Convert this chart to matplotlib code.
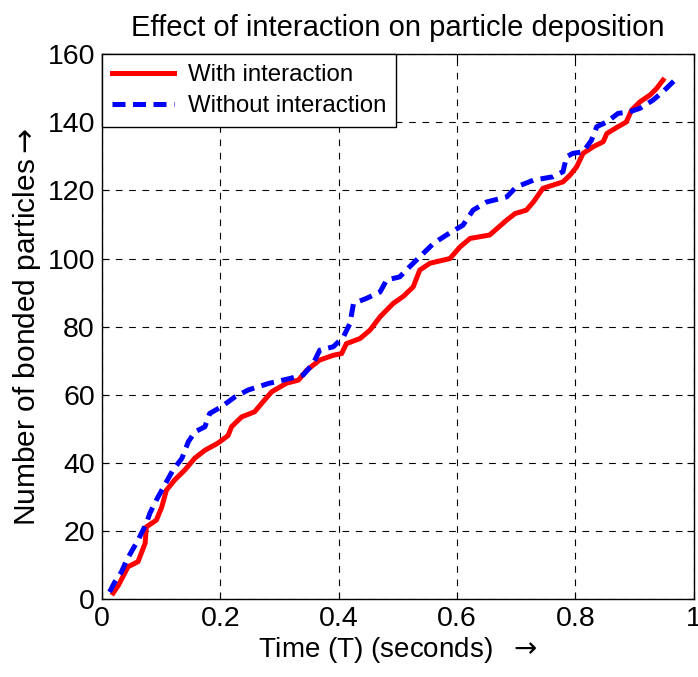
import matplotlib
matplotlib.use("Agg")
import matplotlib.pyplot as plt

plt.rcParams['font.family'] = ['Liberation Sans', 'DejaVu Sans']
plt.rcParams['mathtext.fontset'] = 'dejavusans'

# With interaction (red)
t_with = [0.019, 0.028, 0.044, 0.061, 0.073, 0.075, 0.092, 0.101, 0.109, 0.123,
          0.140, 0.157, 0.174, 0.196, 0.213, 0.219, 0.236, 0.258, 0.270, 0.287,
          0.312, 0.332, 0.346, 0.368, 0.391, 0.405, 0.413, 0.436, 0.453, 0.470,
          0.492, 0.510, 0.526, 0.537, 0.554, 0.588, 0.605, 0.622, 0.655, 0.684,
          0.698, 0.717, 0.729, 0.745, 0.779, 0.791, 0.802, 0.813, 0.830, 0.847,
          0.853, 0.872, 0.886, 0.895, 0.909, 0.926, 0.937, 0.948]
n_with = [1.8, 4.1, 9.5, 11.0, 16.4, 21.2, 23.2, 27.0, 32.0, 35.0,
          37.9, 41.4, 43.7, 45.8, 48.0, 50.6, 53.5, 55.0, 57.5, 60.9,
          63.4, 64.3, 67.2, 70.2, 71.6, 72.1, 75.0, 76.5, 79.0, 82.9,
          86.8, 89.0, 91.7, 96.6, 98.6, 100.0, 103.4, 105.9, 106.9, 111.3,
          113.2, 114.2, 116.6, 120.6, 122.5, 124.5, 126.9, 130.9, 132.8, 134.3,
          136.7, 138.7, 140.1, 143.6, 146.0, 148.0, 149.9, 152.4]

# Without interaction (blue)
t_without = [0.013, 0.022, 0.033, 0.042, 0.053, 0.061, 0.075, 0.081, 0.092, 0.106,
             0.120, 0.135, 0.146, 0.157, 0.174, 0.182, 0.202, 0.225, 0.247, 0.281,
             0.318, 0.340, 0.357, 0.368, 0.391, 0.408, 0.419, 0.425, 0.447, 0.470,
             0.481, 0.503, 0.520, 0.537, 0.560, 0.582, 0.610, 0.627, 0.650, 0.684,
             0.700, 0.729, 0.762, 0.779, 0.785, 0.796, 0.813, 0.827, 0.836, 0.853,
             0.872, 0.892, 0.909, 0.931, 0.948, 0.968]
n_without = [2.1, 5.1, 8.0, 11.5, 14.9, 17.3, 22.2, 25.2, 29.1, 33.5,
             37.9, 41.3, 46.2, 49.1, 50.6, 54.5, 56.5, 59.4, 61.4, 63.3,
             64.8, 65.8, 69.2, 73.1, 74.1, 77.0, 80.9, 86.8, 88.3, 90.2,
             93.7, 94.6, 97.6, 100.5, 104.4, 106.9, 109.8, 114.2, 116.6, 118.1,
             121.0, 123.0, 124.0, 125.5, 129.9, 130.9, 131.3, 134.7, 138.7, 140.1,
             142.6, 143.1, 144.1, 146.5, 149.0, 152.4]

xticks = [0, 0.2, 0.4, 0.6, 0.8, 1]
xticklabels = ['0', '0.2', '0.4', '0.6', '0.8', '1']
yticks = [0, 20, 40, 60, 80, 100, 120, 140, 160]

fig = plt.figure(figsize=(6.98, 6.77), dpi=100)
ax = fig.add_axes([0.146, 0.115, 0.848, 0.805])

ax.plot(t_with, n_with, color='#ff0000', lw=3.6, label='With interaction',
        solid_joinstyle='round', zorder=3)
ax.plot(t_without, n_without, color='#0000ff', lw=3.6, ls=(0, (2.6, 1.5)),
        label='Without interaction', zorder=4)

ax.set_xlim(0, 1)
ax.set_ylim(0, 160)
ax.set_xticks(xticks)
ax.set_xticklabels(xticklabels)
ax.set_yticks(yticks)
ax.grid(True, color='k', ls=(0, (6, 6)), lw=0.8)
ax.tick_params(direction='in', top=True, right=True, labelsize=20.5, length=5,
               width=0.8, pad=5)
for s in ax.spines.values():
    s.set_linewidth(1.0)

ax.set_title('Effect of interaction on particle deposition', fontsize=21, pad=13)
ax.set_xlabel(r'Time (T) (seconds)  $\rightarrow$', fontsize=20, labelpad=2)
ax.set_ylabel(r'Number of bonded particles$\rightarrow$', fontsize=21.5, labelpad=3)

leg = ax.legend(loc='upper left', fontsize=17.3, frameon=True, fancybox=False,
                edgecolor='k', borderaxespad=0, handlelength=2.6,
                borderpad=0.42, labelspacing=0.38, handletextpad=0.55)
leg.get_frame().set_linewidth(1.0)
leg.get_frame().set_alpha(1)

fig.savefig('out.png', dpi=100)
